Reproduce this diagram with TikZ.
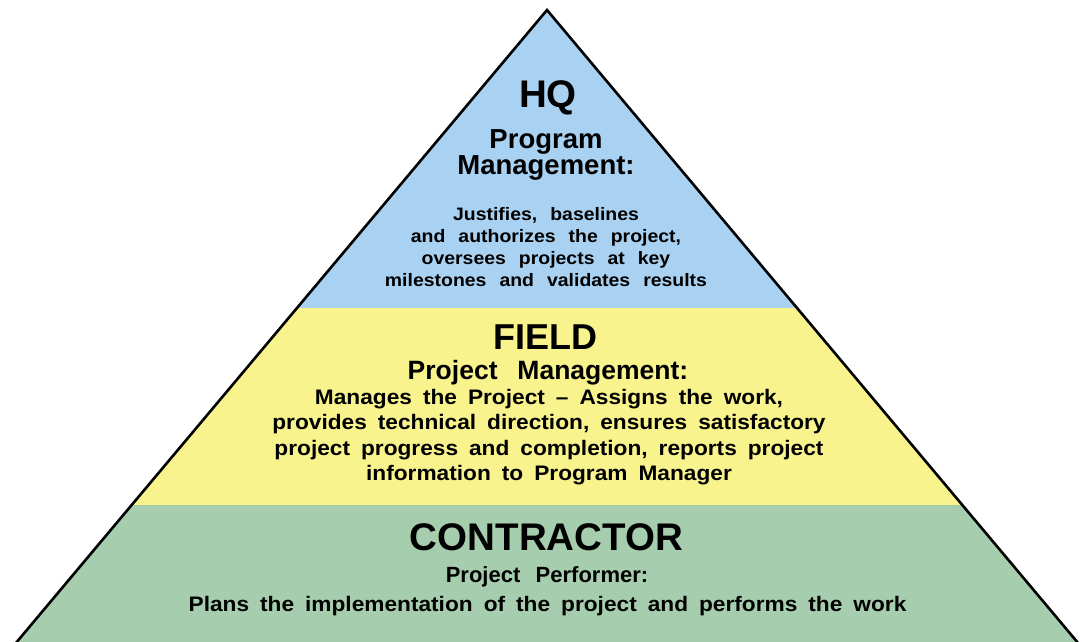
\documentclass[tikz,border=0pt]{standalone}
\usepackage{fontspec}
\setmainfont{Liberation Sans}
\newfontfamily\widesans[FakeStretch=1.08,Ligatures=TeX]{Liberation Sans}
\newcommand\widewords[1]{\spaceskip=#1\relax}
\begin{document}
\begin{tikzpicture}[x=1pt,y=-1pt,
  edge/.style={line width=2.6pt,black,line join=miter},
  txt/.style={align=center,inner sep=0pt}]
\useasboundingbox (0,0) rectangle (1082,642);
\fill[white] (0,0) rectangle (1082,642);
\begin{scope}
\clip (0,0) rectangle (1082,642);
% apex and slope of the sides
\coordinate (apex) at (547,10);
\def\slope{0.839}
% tiers
\fill[fill={rgb,255:red,169;green,209;blue,241}] (apex) -- (547-298*\slope,308) -- (547+298*\slope,308) -- cycle;
\fill[fill={rgb,255:red,248;green,243;blue,141}] (547-298*\slope,308) -- (547-495*\slope,505) -- (547+495*\slope,505) -- (547+298*\slope,308) -- cycle;
\fill[fill={rgb,255:red,166;green,206;blue,174}] (547-495*\slope,505) -- (547-660*\slope,670) -- (547+660*\slope,670) -- (547+495*\slope,505) -- cycle;
\coordinate (bl) at (547-660*\slope,670);
\coordinate (br) at (547+660*\slope,670);
\draw[edge] (bl) -- (apex) -- (br);
\end{scope}
% HQ tier
\node[txt,font=\bfseries\fontsize{38.5}{42}\selectfont] (hq) at (548,98) {HQ};
\node[txt,font=\bfseries\fontsize{27.5}{26.5}\selectfont] (hqsub) at (546,155) {Program\\Management:};
\node[txt,font=\widesans\bfseries\fontsize{18}{22}\selectfont\widewords{13pt}] (hqbody) at (546,247) {Justifies, baselines\\and authorizes the project,\\oversees projects at key\\milestones and validates results};
% FIELD tier
\node[txt,font=\bfseries\fontsize{36}{40}\selectfont] (field) at (545,337) {FIELD};
\node[txt,font=\bfseries\fontsize{26.5}{28}\selectfont\widewords{0.75em}] (fieldsub) at (548,373) {Project Management:};
\node[txt,font=\widesans\bfseries\fontsize{21}{25.5}\selectfont\widewords{11pt}] (fieldbody) at (549,437) {Manages the Project – Assigns the work,\\provides technical direction, ensures satisfactory\\project progress and completion, reports project\\information to Program Manager};
% CONTRACTOR tier
\node[txt,font=\bfseries\fontsize{38.5}{42}\selectfont] (contr) at (546.5,537) {CONTRACTOR};
\node[txt,font=\bfseries\fontsize{22}{24}\selectfont\widewords{0.7em}] (contrsub) at (547,577) {Project Performer:};
\node[txt,font=\widesans\bfseries\fontsize{21}{24}\selectfont\widewords{11pt}] (contrbody) at (547.5,606) {Plans the implementation of the project and performs the work};
\end{tikzpicture}
\end{document}
